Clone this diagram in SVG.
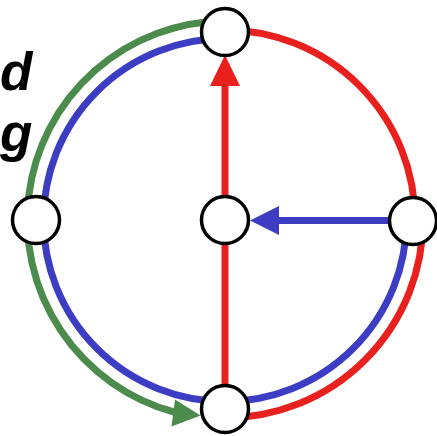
<svg xmlns="http://www.w3.org/2000/svg" width="437" height="436" viewBox="0 0 437 436">
<style>
.node{fill:#fff;stroke:#000;stroke-width:3.5}
.ln{fill:none;stroke-width:7}
.red{stroke:#e8211f}
.blue{stroke:#3d3dc3}
.green{stroke:#4b8b4b}
.lbl{font-family:"Liberation Sans",Arial,sans-serif;font-weight:bold;font-style:italic;font-size:53px;fill:#000}
</style>
<rect width="437" height="436" fill="#fff"/>
<g id="labels">
<text class="lbl" x="0" y="90">d</text>
<text class="lbl" x="0" y="151">g</text>
</g>
<g id="connectors">
<path class="ln green" d="M225 21 A199 199 0 0 0 174 412"/>
<polygon fill="#4b8b4b" points="175,399.5 171.5,426.5 200.5,415.5"/>
<path class="ln blue" d="M225 38.5 A181.5 181.5 0 1 0 406.5 220"/>
<path class="ln red" d="M225 30 A190 190 0 0 1 415 220"/>
<path class="ln red" d="M423 220 A198 198 0 0 1 225 418"/>
<line class="ln red" x1="225" y1="400" x2="225" y2="84"/>
<polygon fill="#e8211f" points="225,55 210,86 240,86"/>
<line class="ln blue" x1="395" y1="220.5" x2="276" y2="220.5"/>
<polygon fill="#3d3dc3" points="250,220.5 279,206 279,235"/>
</g>
<g id="node-top"><circle class="node" cx="225" cy="32" r="23.5"/></g>
<g id="node-left"><circle class="node" cx="36" cy="220" r="23.5"/></g>
<g id="node-center"><circle class="node" cx="225" cy="220" r="23.5"/></g>
<g id="node-right"><circle class="node" cx="413" cy="221" r="23.5"/></g>
<g id="node-bottom"><circle class="node" cx="225" cy="409" r="23.5"/></g>
</svg>
